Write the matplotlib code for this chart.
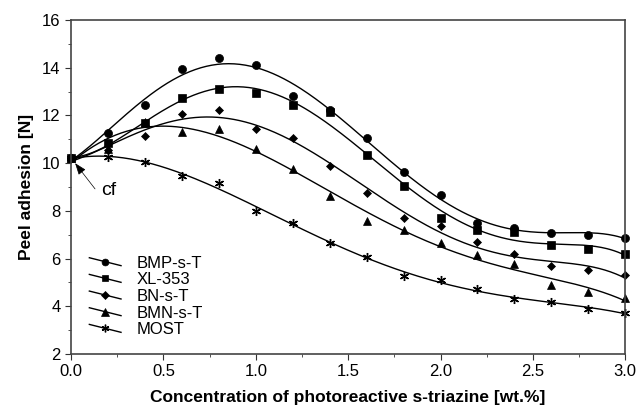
import numpy as np
import matplotlib
matplotlib.use("Agg")
import matplotlib.pyplot as plt
from matplotlib.legend_handler import HandlerLine2D

plt.rcParams['font.family'] = ['Liberation Sans', 'DejaVu Sans']

# concentration of photoreactive s-triazine [wt.%]
conc = [0.0, 0.2, 0.4, 0.6, 0.8, 1.0, 1.2, 1.4, 1.6, 1.8, 2.0, 2.2, 2.4, 2.6, 2.8, 3.0]

# peel adhesion [N]
bmp = [10.2, 11.25, 12.45, 13.93, 14.42, 14.13, 12.83, 12.23, 11.05, 9.64, 8.67, 7.5, 7.28, 7.09, 6.98, 6.88]
xl353 = [10.2, 10.86, 11.67, 12.72, 13.11, 12.93, 12.44, 12.15, 10.34, 9.06, 7.69, 7.19, 7.11, 6.58, 6.4, 6.18]
bn = [10.2, 10.55, 11.15, 12.05, 12.24, 11.44, 11.05, 9.88, 8.76, 7.69, 7.37, 6.71, 6.18, 5.69, 5.5, 5.3]
bmn = [10.2, 10.6, 11.74, 11.32, 11.43, 10.6, 9.74, 8.64, 7.58, 7.19, 6.64, 6.15, 5.77, 4.89, 4.59, 4.36]
most = [10.2, 10.27, 10.04, 9.46, 9.18, 8.0, 7.48, 6.67, 6.08, 5.27, 5.09, 4.71, 4.31, 4.19, 3.89, 3.71]

names = ["BMP-s-T", "XL-353", "BN-s-T", "BMN-s-T", "MOST"]
series = [bmp, xl353, bn, bmn, most]
markers = ["o", "s", "D", "^", (6, 2, 0)]
msizes = [5.8, 5.2, 4.3, 6, 6.5]


class SlantHandler(HandlerLine2D):
    # legend handle with a descending line, like the original
    def create_artists(self, legend, orig_handle, xdescent, ydescent,
                       width, height, fontsize, trans):
        arts = super().create_artists(legend, orig_handle, xdescent, ydescent,
                                      width, height, fontsize, trans)
        line = arts[0]
        xd = np.asarray(line.get_xdata(), float)
        mid = (height - ydescent) / 2
        slope = 0.25
        line.set_ydata(mid - slope * (xd - xd.mean()))
        return arts


fig = plt.figure(figsize=(6.4, 4.11), dpi=100)
ax = fig.add_axes([0.111, 0.139, 0.866, 0.812])

xs = np.linspace(0, 3, 300)
handles = []
for name, y, m, ms in zip(names, series, markers, msizes):
    mew = 1.0 if m == markers[-1] else 0.5
    coef = np.polyfit(conc, y, 5)
    ax.plot(xs, np.polyval(coef, xs), color="black", lw=1.0)
    ax.plot(conc, y, ls="none", marker=m, ms=ms, color="black",
            markeredgewidth=mew, clip_on=False)
    h, = ax.plot([], [], color="black", lw=1.0, marker=m, ms=ms,
                 markeredgewidth=mew)
    handles.append(h)

# control film arrow
ax.annotate("", xy=(0.022, 10.0), xytext=(0.13, 8.92),
            arrowprops=dict(arrowstyle="-|>,head_length=0.6,head_width=0.22",
                            color="black", lw=0.5, mutation_scale=12,
                            shrinkA=0, shrinkB=0))
ax.text(0.165, 8.85, "cf", fontsize=14, ha="left", va="center")

leg = ax.legend(handles, names, loc="lower left", bbox_to_anchor=(0.015, 0.02),
                frameon=False, fontsize=12, handlelength=1.9, handletextpad=0.95,
                labelspacing=0.1, borderaxespad=0.2, markerscale=0.85,
                handler_map={h: SlantHandler(numpoints=1) for h in handles})

ax.set_xlim(0, 3.0)
ax.set_ylim(2, 16)
ax.set_xticks(np.arange(0, 3.01, 0.5))
ax.set_xticks(np.arange(0, 3.01, 0.25), minor=True)
ax.set_yticks(np.arange(2, 16.1, 2))
ax.set_yticks(np.arange(3, 16, 2), minor=True)
ax.xaxis.set_major_formatter(matplotlib.ticker.FormatStrFormatter("%.1f"))
ax.tick_params(which="both", direction="out", top=False, right=False,
               labelsize=12, color="#333333")
ax.tick_params(which="major", length=4)
ax.tick_params(which="minor", length=2.5)
for s in ax.spines.values():
    s.set_color("#444444")
    s.set_linewidth(1.2)

ax.set_xlabel("Concentration of photoreactive s-triazine [wt.%]", fontsize=12.5,
              fontweight="bold", labelpad=8)
ax.set_ylabel("Peel adhesion [N]", fontsize=12.5, fontweight="bold", labelpad=6)

fig.savefig("out.png", dpi=100)
